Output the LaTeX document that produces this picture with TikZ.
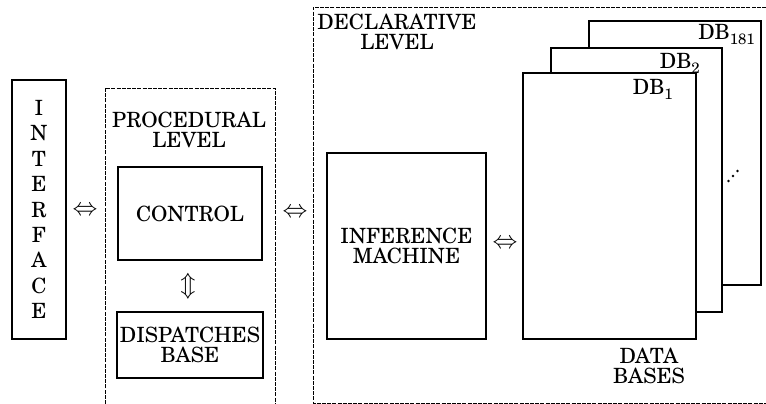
\documentclass[tikz,border=0pt]{standalone}
\usepackage{fontspec}
\setmainfont{TeX Gyre Schola}
\newcommand\lblfont{\fontsize{21}{20.5}\selectfont}
\newcommand\ifacefont{\fontsize{21}{25.4}\selectfont}
\newcommand\arrfont{\fontsize{25}{25}\selectfont}
\newcommand\dbsub[1]{\raisebox{-0.45ex}{\fontsize{15}{15}\selectfont #1}}
\tikzset{
  solidbox/.style={draw, line width=1.2pt, inner sep=0pt, align=center, font=\lblfont, fill=white},
  levelline/.style={line width=0.8pt, dash pattern=on 4pt off 1.2pt},
  lbl/.style={font=\lblfont, align=center, inner sep=0pt},
  dblbl/.style={font=\lblfont, inner sep=0pt, anchor=base east},
  arr/.style={font=\arrfont, inner sep=0pt}
}
\begin{document}
\begin{tikzpicture}[x=1pt,y=-1pt]
\useasboundingbox (0,0) rectangle (766,404);

% interface
\node[solidbox, font=\ifacefont, minimum width=54pt, minimum height=259pt] (iface) at (39,209.5) {I\\N\\T\\E\\R\\F\\A\\C\\E};

% procedural level
\coordinate (pbl) at (105,404);
\coordinate (ptl) at (105,88);
\coordinate (ptr) at (275,88);
\coordinate (pbr) at (275,404);
\draw[levelline] (pbl) -- (ptl) -- (ptr) -- (pbr);
\node[lbl] (proc) at (189,130) {PROCEDURAL\\LEVEL};
\node[solidbox, minimum width=144pt, minimum height=93pt] (ctrl) at (190,213.5) {CONTROL};
\node[solidbox, minimum width=146pt, minimum height=66pt] (disp) at (190,345) {DISPATCHES\\BASE};
\node[arr] (a3) at (188,286) {$\Updownarrow$};

% declarative level
\coordinate (dtr) at (766,7);
\coordinate (dtl) at (313,7);
\coordinate (dbl) at (313,403);
\coordinate (dbr) at (766,403);
\draw[levelline] (dtr) -- (dtl) -- (dbl) -- (dbr);
\node[lbl] (decl) at (397,32) {DECLARATIVE\\LEVEL};
\node[solidbox, minimum width=159pt, minimum height=186pt] (inf) at (406.5,246) {INFERENCE\\MACHINE};

% data bases
\node[solidbox, minimum width=172pt, minimum height=264pt] (db3) at (675,153) {};
\node[solidbox, minimum width=171pt, minimum height=264pt] (db2) at (636.5,180) {};
\node[solidbox, minimum width=173pt, minimum height=266pt] (db1) at (609.5,206) {};
\node[dblbl] (l3) at (755,40) {DB\dbsub{181}};
\node[dblbl] (l2) at (700,69) {DB\dbsub{2}};
\node[dblbl] (l1) at (673,95) {DB\dbsub{1}};
\fill (728.5,181) circle (1.4pt) (733,176) circle (1.4pt) (737.5,171) circle (1.4pt);
\node[lbl] (dbs) at (649,366) {DATA\\BASES};

% arrows
\node[arr] (a1) at (85,211) {$\Leftrightarrow$};
\node[arr] (a2) at (295,213) {$\Leftrightarrow$};
\node[arr] (a4) at (505,244) {$\Leftrightarrow$};
\end{tikzpicture}
\end{document}
